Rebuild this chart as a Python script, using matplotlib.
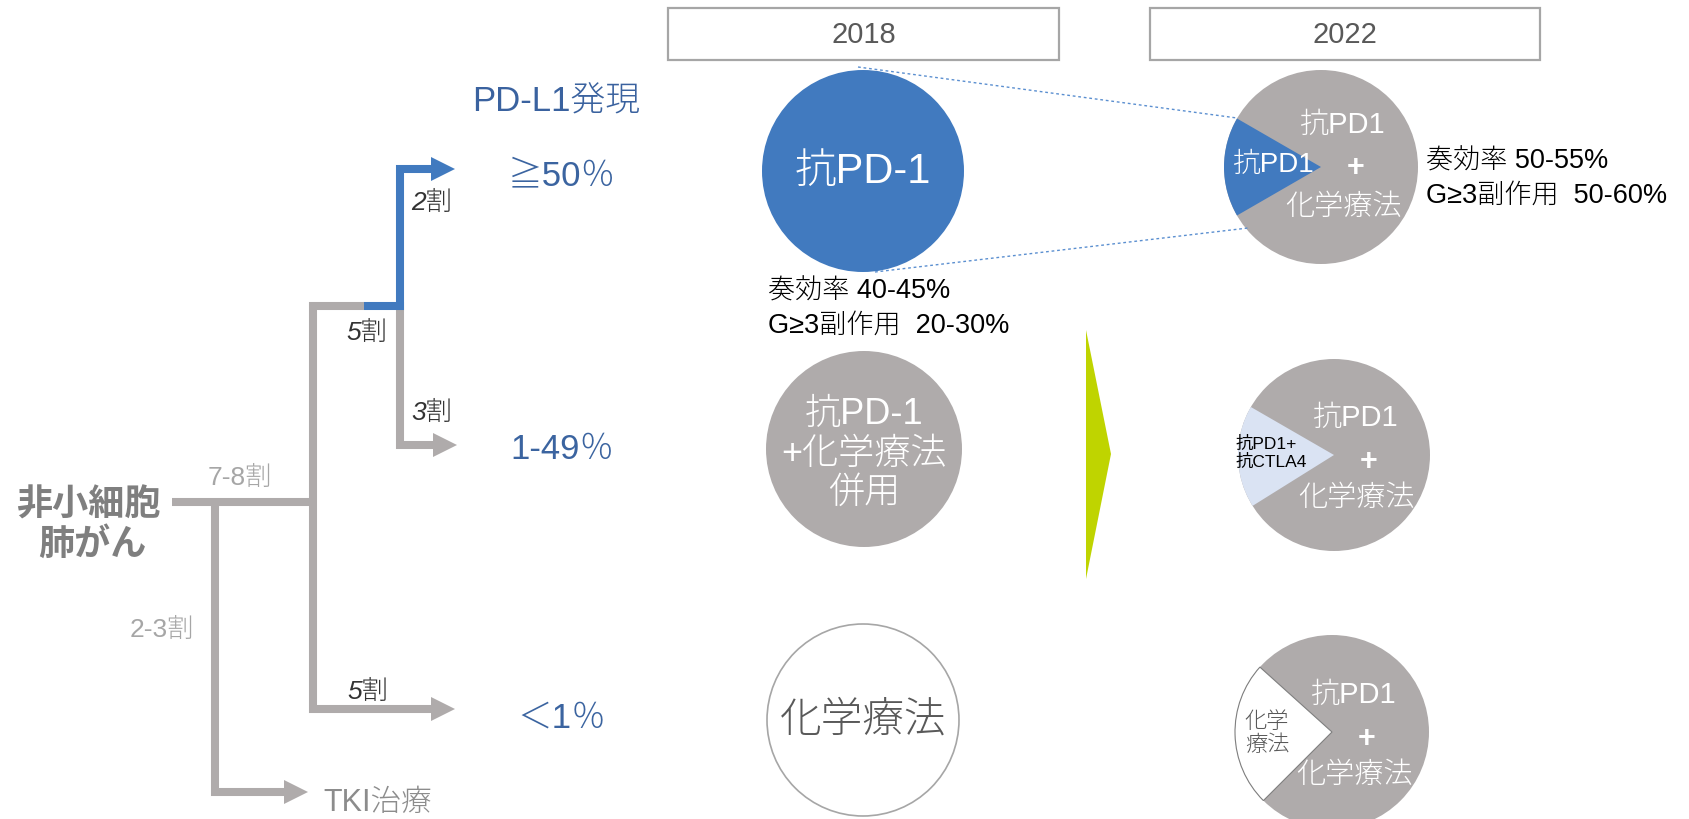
import matplotlib
matplotlib.use('Agg')
import matplotlib.pyplot as plt
from matplotlib.patches import Circle, Wedge, Polygon, Rectangle

plt.rcParams['font.family'] = ['Liberation Sans', 'Noto Sans CJK JP', 'DejaVu Sans']
plt.rcParams['font.weight'] = 'light'

# ---- data (texts of the diagram) ----
root_label = ['非小細胞', '肺がん']
split_labels = ['7-8割', '2-3割']
mid_share = '5割'
pdl1_title = 'PD-L1発現'
pdl1_groups = ['≧50％', '1-49％', '＜1％']
group_share = ['2割', '3割', '5割']
tki_label = 'TKI治療'
years = ['2018', '2022']
tx_2018 = ['抗PD-1', '抗PD-1\n+化学療法\n併用', '化学療法']
tx_2022_main = ['抗PD1', '+', '化学療法']
tx_2022_sub = ['抗PD1', '抗PD1+\n抗CTLA4', '化学\n療法']
resp_2018 = ['奏効率 40-45%', 'G≥3副作用  20-30%']
resp_2022 = ['奏効率 50-55%', 'G≥3副作用  50-60%']

# ---- layout (pixel coords, y down) ----
W, H = 1689, 820
GRAY = '#AFABAB'
BLUE = '#417ABF'
LW = 5.8
label_y = [176, 450, 718]
c18 = [(863, 172, 101), (864, 450, 98), (863, 721, 96)]
c22 = [(1321, 168, 97), (1334, 456, 96), (1332, 733, 97)]

fig = plt.figure(figsize=(W / 100, H / 100), dpi=100)
ax = fig.add_axes([0, 0, 1, 1])
ax.set_xlim(0, W)
ax.set_ylim(H, 0)
ax.axis('off')


def path(pts, color, head=True):
    xs = [p[0] for p in pts]
    ys = [p[1] for p in pts]
    if head:
        tx, ty = xs[-1], ys[-1]
        xs[-1] = tx - 23
        ax.add_patch(Polygon([(tx - 24, ty - 12), (tx, ty), (tx - 24, ty + 12)],
                             closed=True, color=color, lw=0, zorder=3))
    ax.plot(xs, ys, color=color, lw=LW, solid_joinstyle='miter',
            solid_capstyle='butt', zorder=2)


# tree
path([(172, 503), (317, 503)], GRAY, head=False)
path([(364, 307), (313, 307), (313, 710), (455, 710)], GRAY)
path([(400, 303), (400, 446), (457, 446)], GRAY)
path([(364, 307), (400, 307), (400, 170), (455, 170)], BLUE)
path([(215, 503), (215, 793), (308, 793)], GRAY)

ax.text(88, 506, root_label[0], fontsize=26, fontweight='bold', color='#7F7F7F',
        ha='center', va='center')
ax.text(92, 545, root_label[1], fontsize=26, fontweight='bold', color='#7F7F7F',
        ha='center', va='center')
ax.text(240, 478, split_labels[0], fontsize=19, color='#A6A6A6', ha='center', va='center')
ax.text(194, 630, split_labels[1], fontsize=19, color='#A6A6A6', ha='right', va='center')
ax.text(367, 333, mid_share, fontsize=19, style='italic', color='#333333', ha='center', va='center')
share_xy = [(432, 203), (432, 413), (368, 692)]
for (x, y), s in zip(share_xy, group_share):
    ax.text(x, y, s, fontsize=19, style='italic', color='#333333', ha='center', va='center')
ax.text(323, 803, tki_label, fontsize=22, color='#8C8C8C', ha='left', va='center')

ax.text(556, 102, pdl1_title, fontsize=25, color='#3A629F', ha='center', va='center')
for y, g in zip(label_y, pdl1_groups):
    ax.text(562, y, g, fontsize=25, color='#3B64A0', ha='center', va='center')

# year headers
box_x = [(668, 391), (1150, 390)]
for (x0, w), yr in zip(box_x, years):
    ax.add_patch(Rectangle((x0, 9), w, 52, fill=False, ec='#A6A6A6', lw=1.6))
    ax.text(x0 + w / 2, 35, yr, fontsize=21, color='#595959', ha='center', va='center')

# 2018 circles
(x, y, r) = c18[0]
ax.add_patch(Circle((x, y), r, color=BLUE, lw=0))
ax.text(x, y, tx_2018[0], fontsize=30, color='white', ha='center', va='center')
(x, y, r) = c18[1]
ax.add_patch(Circle((x, y), r, color=GRAY, lw=0))
ax.text(x, y + 4, tx_2018[1], fontsize=26, color='white', ha='center', va='center',
        linespacing=1.15)
(x, y, r) = c18[2]
ax.add_patch(Circle((x, y), r, fc='white', ec='#A6A6A6', lw=1.2))
ax.text(x, y, tx_2018[2], fontsize=30, color='#595959', ha='center', va='center')

ax.text(768, 292, resp_2018[0], fontsize=19.5, color='black', ha='left', va='center')
ax.text(768, 326, resp_2018[1], fontsize=19.5, color='black', ha='left', va='center')

# green arrow
ax.add_patch(Polygon([(1086, 331), (1111, 455), (1086, 580)], closed=True,
                     color='#BFD400', lw=0))

# 2022 circles
wedge_ang = [(150, 210), (148, 210), (135, 222)]
wedge_fc = [BLUE, '#DAE3F3', 'white']
wedge_ec = [BLUE, '#DAE3F3', '#7F7F7F']
sub_color = ['white', 'black', '#595959']
sub_size = [20, 12.5, 16]
sub_weight = ['light', 'normal', 'light']
sub_xy = [(1273, 165, 'center'), (1236, 453, 'left'), (1267, 734, 'center')]
main_dy = [(-43, 0, 39), (-38, 6, 42), (-38, 6, 42)]
for i, (x, y, r) in enumerate(c22):
    ax.add_patch(Circle((x, y), r, color=GRAY, lw=0))
    a1, a2 = wedge_ang[i]
    ax.add_patch(Wedge((x, y), r, a1, a2, fc=wedge_fc[i], ec=wedge_ec[i],
                       lw=0.8 if i == 2 else 0))
    sx, sy, ha = sub_xy[i]
    ax.text(sx, sy, tx_2022_sub[i], fontsize=sub_size[i], color=sub_color[i],
            fontweight=sub_weight[i], ha=ha, va='center', linespacing=1.1)
    d1, d2, d3 = main_dy[i]
    ax.text(x + 21, y + d1, tx_2022_main[0], fontsize=21, color='white', ha='center', va='center')
    ax.text(x + 35, y + d2, tx_2022_main[1], fontsize=22, fontweight='bold', color='white',
            ha='center', va='center')
    ax.text(x + 22, y + d3, tx_2022_main[2], fontsize=21, color='white', ha='center', va='center')

ax.text(1426, 162, resp_2022[0], fontsize=19.5, color='black', ha='left', va='center')
ax.text(1426, 196, resp_2022[1], fontsize=19.5, color='black', ha='left', va='center')

# dotted guide lines from 2018 blue circle to 2022 wedge
ax.plot([858, 1237], [68, 119], color='#5B8FD0', lw=1, ls=(0, (2, 2)), zorder=5)
ax.plot([875, 1248], [273, 229], color='#5B8FD0', lw=1, ls=(0, (2, 2)), zorder=5)

fig.savefig('out.png', dpi=100)
